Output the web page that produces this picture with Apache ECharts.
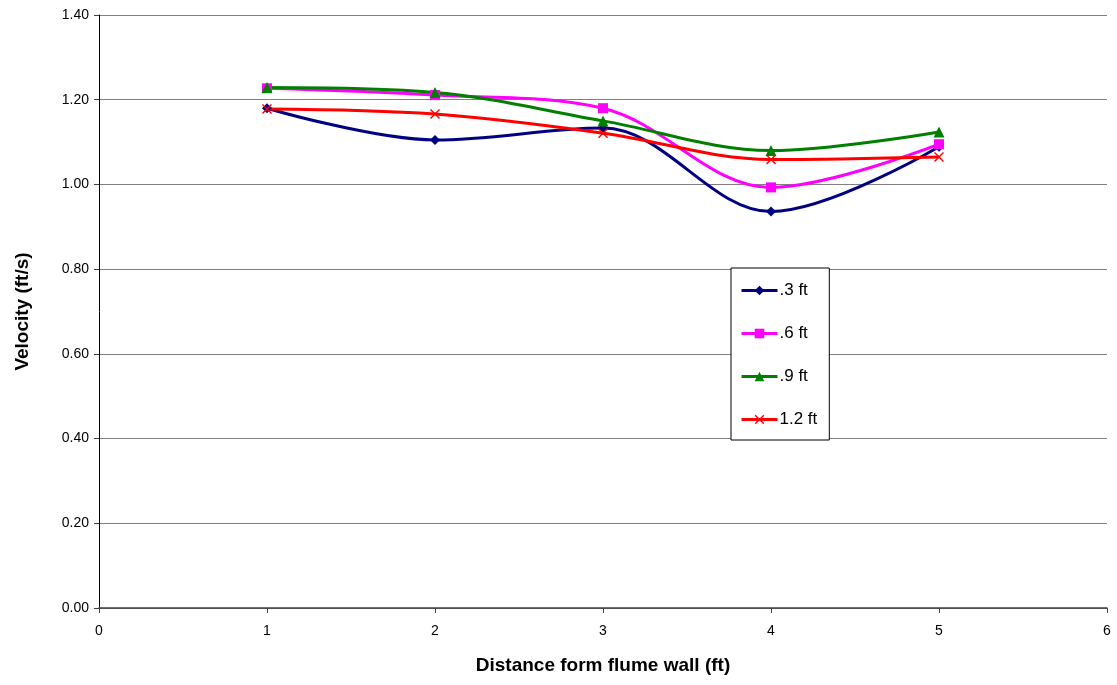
<!DOCTYPE html>
<html>
<head>
<meta charset="utf-8">
<script src="https://cdn.jsdelivr.net/npm/echarts@6/dist/echarts.min.js"></script>
<style>
  html, body { margin: 0; padding: 0; background: #fff; }
  #chart { width: 1117px; height: 685px; }
</style>
</head>
<body>
<div id="chart"></div>
<script>
// Distance from the flume wall (ft)
const distances = [1, 2, 3, 4, 5];
// Velocity readings (ft/s) at each measurement depth
const depth03 = [1.180, 1.105, 1.133, 0.936, 1.089];
const depth06 = [1.227, 1.211, 1.180, 0.993, 1.095];
const depth09 = [1.229, 1.217, 1.150, 1.080, 1.124];
const depth12 = [1.178, 1.166, 1.121, 1.059, 1.065];
const seriesNames = ['.3 ft', '.6 ft', '.9 ft', '1.2 ft'];

const xMark = 'path://M1,0L5,4L9,0L10,1L6,5L10,9L9,10L5,6L1,10L0,9L4,5L0,1Z';

function pairs(vals) {
  return distances.map((d, i) => [d, vals[i]]);
}

function lineSeries(name, vals, color, symbol, size) {
  return {
    name: name,
    type: 'line',
    smooth: 0.35,
    data: pairs(vals),
    symbol: symbol,
    symbolSize: size,
    showAllSymbol: true,
    lineStyle: { color: color, width: 3 },
    itemStyle: { color: color },
    emphasis: { disabled: true }
  };
}

const chart = echarts.init(document.getElementById('chart'));
chart.setOption({
  animation: false,
  backgroundColor: '#ffffff',
  textStyle: { fontFamily: 'Liberation Sans, Arial, sans-serif' },
  grid: { left: 99, right: 10, top: 15, bottom: 77, containLabel: false },
  legend: {
    orient: 'vertical',
    left: 731,
    top: 268,
    padding: [14, 12, 12, 9],
    itemGap: 26,
    itemWidth: 36,
    itemHeight: 12,
    backgroundColor: '#ffffff',
    borderColor: '#000000',
    borderWidth: 1,
    lineStyle: { width: 3 },
    textStyle: { fontSize: 17, color: '#000', padding: [0, 0, 0, -3] },
    data: seriesNames
  },
  xAxis: {
    type: 'value',
    min: 0,
    max: 6,
    interval: 1,
    name: 'Distance form flume wall (ft)',
    nameLocation: 'middle',
    nameGap: 48,
    nameTextStyle: { fontSize: 19, fontWeight: 'bold', color: '#000' },
    axisLine: { show: true, lineStyle: { color: '#404040', width: 1.5 } },
    axisTick: { show: true, length: 5, lineStyle: { color: '#404040' } },
    axisLabel: { fontSize: 14, color: '#000', margin: 16 },
    splitLine: { show: false }
  },
  yAxis: {
    type: 'value',
    min: 0,
    max: 1.4,
    interval: 0.2,
    name: 'Velocity (ft/s)',
    nameLocation: 'middle',
    nameGap: 67,
    nameTextStyle: { fontSize: 19, fontWeight: 'bold', color: '#000' },
    axisLine: { show: true, lineStyle: { color: '#000', width: 1 } },
    axisTick: { show: true, length: 5, lineStyle: { color: '#404040' } },
    axisLabel: {
      fontSize: 14, color: '#000', margin: 10,
      formatter: v => v.toFixed(2)
    },
    splitLine: { show: true, lineStyle: { color: '#808080', width: 1 } }
  },
  series: [
    lineSeries(seriesNames[0], depth03, '#000080', 'diamond', 10),
    lineSeries(seriesNames[1], depth06, '#ff00ff', 'rect', 10),
    lineSeries(seriesNames[2], depth09, '#008000', 'triangle', 11),
    lineSeries(seriesNames[3], depth12, '#ff0000', xMark, 10)
  ]
});
</script>
</body>
</html>
